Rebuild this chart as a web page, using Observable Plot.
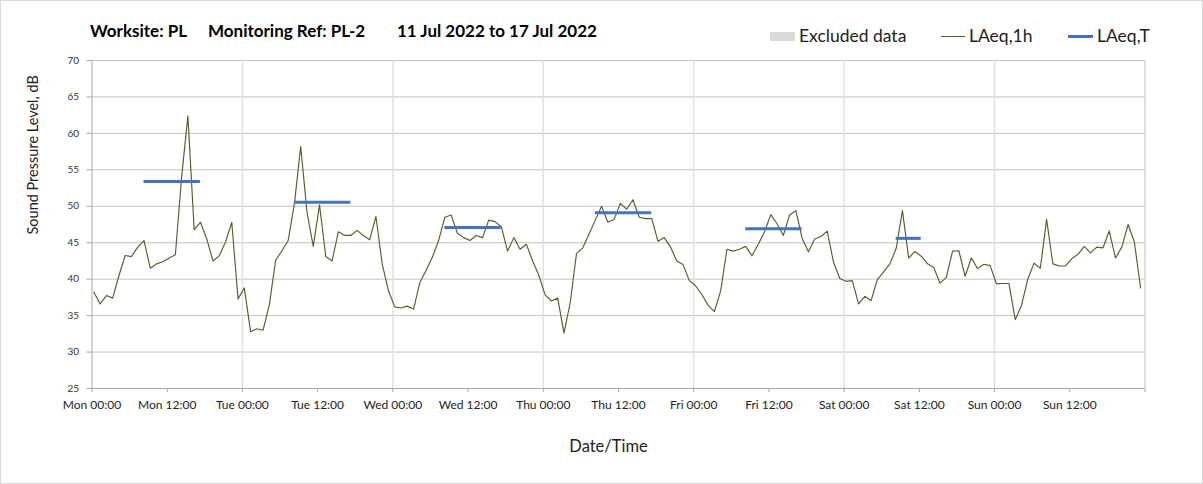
<!DOCTYPE html>
<html>
<head>
<meta charset="utf-8">
<script src="https://cdn.jsdelivr.net/npm/d3@7"></script>
<script src="https://cdn.jsdelivr.net/npm/@observablehq/plot@0.6"></script>
<style>
  html, body { margin: 0; padding: 0; background: #fff; }
  #wrap { position: relative; width: 1203px; height: 484px; font-family: Lato, "Open Sans", sans-serif; overflow: hidden; }
  #wrap svg { position: absolute; left: 0; top: 0; }
  #border { position: absolute; left: 0; top: 0; width: 1203px; height: 484px; box-sizing: border-box; border: 1px solid #d9d9d9; pointer-events: none; }
  .ttl { position: absolute; top: 21px; line-height: 20px; font-size: 17px; font-weight: bold; color: #000; white-space: nowrap; }
  .lg { position: absolute; top: 26px; line-height: 20px; font-size: 17.5px; color: #222; white-space: nowrap; }
  .sw { position: absolute; }
</style>
</head>
<body>
<div id="wrap">
  <div id="border"></div>
</div>
<script>
// ---- data ----
const titleParts = ["Worksite: PL", "Monitoring Ref: PL-2", "11 Jul 2022 to 17 Jul 2022"];
const legendLabels = ["Excluded data", "LAeq,1h", "LAeq,T"];
const yTitle = "Sound Pressure Level, dB";
const xTitle = "Date/Time";

// hourly LAeq,1h values, Mon 00:00 .. Sun 23:00
const laeq1h = [
  38.2, 36.6, 37.75, 37.4, 40.5, 43.25, 43.1, 44.4, 45.3, 41.5, 42.1, 42.4,
  42.9, 43.35, 54.0, 62.4, 46.8, 47.8, 45.55, 42.5, 43.2, 45.1, 47.8, 37.3,
  38.8, 32.8, 33.2, 33.0, 36.5, 42.6, 43.9, 45.3, 50.4, 58.2, 49.2, 44.5,
  50.2, 43.1, 42.5, 46.5, 46.0, 46.0, 46.7, 46.0, 45.4, 48.6, 42.1, 38.4,
  36.2, 36.05, 36.3, 35.9, 39.5, 41.2, 43.0, 45.3, 48.5, 48.8, 46.3, 45.7,
  45.3, 46.0, 45.7, 48.1, 47.9, 47.2, 43.85, 45.7, 44.1, 44.8, 42.5, 40.5,
  37.85, 37.0, 37.4, 32.6, 36.8, 43.5, 44.3, 46.2, 48.1, 50.0, 47.8, 48.2,
  50.4, 49.6, 50.9, 48.5, 48.3, 48.3, 45.2, 45.7, 44.4, 42.5, 42.0, 39.8,
  39.1, 37.9, 36.4, 35.55, 38.4, 44.1, 43.85, 44.1, 44.5, 43.2, 44.8, 46.5,
  48.85, 47.6, 46.0, 48.8, 49.4, 45.6, 43.75, 45.5, 45.85, 46.6, 42.35, 40.1,
  39.7, 39.8, 36.6, 37.65, 37.05, 39.95, 41.0, 42.1, 44.2, 49.4, 42.9, 43.8,
  43.15, 42.1, 41.6, 39.45, 40.25, 43.85, 43.9, 40.4, 42.9, 41.45, 42.05, 41.85,
  39.35, 39.4, 39.4, 34.45, 36.4, 40.0, 42.2, 41.5, 48.2, 42.1, 41.8, 41.8,
  42.8, 43.4, 44.5, 43.6, 44.4, 44.3, 46.6, 42.9, 44.4, 47.5, 45.1, 38.8
];

// LAeq,T daytime periods (hour index from Mon 00:00)
const periodStart = [8, 32, 56, 80, 104, 128];
const periodEnd   = [17, 41, 65, 89, 113, 132];
const laeqT       = [53.4, 50.55, 47.1, 49.1, 46.9, 45.6];

const xTickHours  = [0, 12, 24, 36, 48, 60, 72, 84, 96, 108, 120, 132, 144, 156, 168];
const xTickLabels = ["Mon 00:00", "Mon 12:00", "Tue 00:00", "Tue 12:00", "Wed 00:00", "Wed 12:00",
                     "Thu 00:00", "Thu 12:00", "Fri 00:00", "Fri 12:00", "Sat 00:00", "Sat 12:00",
                     "Sun 00:00", "Sun 12:00", ""];
const dayHours = [24, 48, 72, 96, 120, 144];
const yTicks = [25, 30, 35, 40, 45, 50, 55, 60, 65, 70];

// ---- build ----
const green = "#4f6228", blue = "#4472c4";
const pts = laeq1h.map((v, i) => ({h: i + 0.3, v}));
const periods = laeqT.map((v, k) => ({h1: periodStart[k] + 0.3, h2: periodEnd[k] + 0.3, v}));
const tickLabelOf = new Map(xTickHours.map((h, i) => [h, xTickLabels[i]]));

const chart = Plot.plot({
  width: 1203,
  height: 484,
  marginLeft: 91.5,
  marginRight: 58.5,
  marginTop: 60,
  marginBottom: 96,
  style: {fontFamily: "Lato, 'Open Sans', sans-serif", background: "transparent", color: "#222"},
  x: {type: "linear", domain: [0, 168]},
  y: {domain: [25, 70]},
  marks: [
    Plot.gridY(yTicks, {stroke: "#c4c4c4", strokeOpacity: 1}),
    Plot.gridX(dayHours, {stroke: "#e2e2e2", strokeOpacity: 1, strokeWidth: 1.5}),
    Plot.ruleX([168], {stroke: "#bfbfbf"}),
    Plot.ruleX([0], {stroke: "#a6a6a6"}),
    Plot.ruleY([25], {stroke: "#a6a6a6"}),
    Plot.axisY(yTicks, {tickSize: 5, tickPadding: 8, fontSize: 10, stroke: "#a6a6a6", fill: "#333", label: null}),
    Plot.axisX(xTickHours, {tickSize: 4, tickPadding: 8, fontSize: 12, stroke: "#a6a6a6", fill: "#222",
      tickFormat: (d) => tickLabelOf.get(d), label: null}),
    Plot.line(pts, {x: "h", y: "v", stroke: green, strokeWidth: 1.15}),
    Plot.ruleY(periods, {y: "v", x1: "h1", x2: "h2", stroke: blue, strokeWidth: 3}),
    Plot.text([xTitle], {frameAnchor: "bottom", dx: -10, dy: 63, fontSize: 16.5, fill: "#222"}),
    Plot.text([yTitle], {frameAnchor: "left", dx: -59, dy: 10, rotate: -90, fontSize: 14.5, fill: "#222"})
  ]
});

const wrap = document.getElementById("wrap");
wrap.insertBefore(chart, wrap.firstChild);

function addEl(cls, left, text, extra) {
  const d = document.createElement("div");
  d.className = cls;
  d.style.left = left + "px";
  if (text != null) d.textContent = text;
  if (extra) Object.assign(d.style, extra);
  wrap.appendChild(d);
  return d;
}
// title
addEl("ttl", 90, titleParts[0]);
addEl("ttl", 208, titleParts[1]);
addEl("ttl", 397, titleParts[2]);
// legend
addEl("sw", 770, null, {top: "32px", width: "25px", height: "9px", background: "#d9d9d9"});
addEl("lg", 799, legendLabels[0]);
addEl("sw", 941, null, {top: "36px", width: "24px", height: "1px", background: green});
addEl("lg", 969, legendLabels[1]);
addEl("sw", 1068, null, {top: "35px", width: "25px", height: "3px", background: blue});
addEl("lg", 1097, legendLabels[2]);
</script>
</body>
</html>
